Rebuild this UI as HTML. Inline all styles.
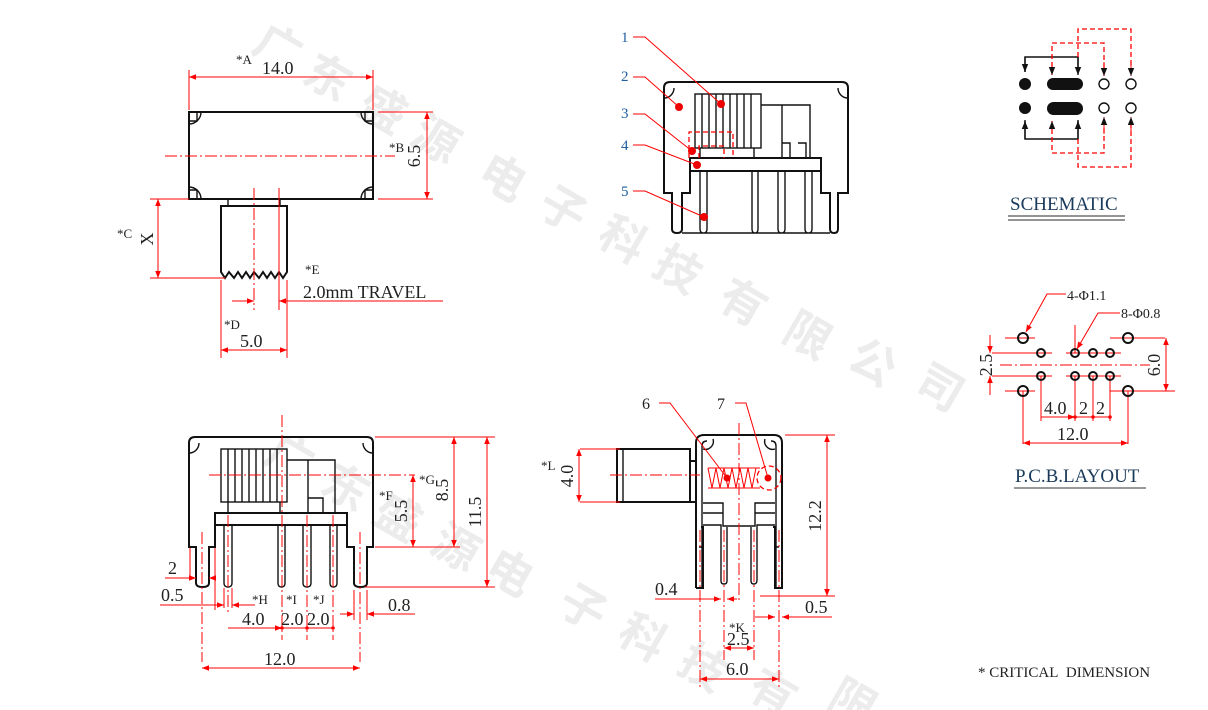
<!DOCTYPE html>
<html><head><meta charset="utf-8"><style>
html,body{margin:0;padding:0;background:#fff;width:1208px;height:710px;overflow:hidden}
svg{display:block}
text{font-family:"Liberation Serif",serif;fill:#222}
.k{stroke:#111;stroke-width:2;fill:none}
.k1{stroke:#111;stroke-width:1.4;fill:none}
.r{stroke:#f00;stroke-width:1;fill:none}
.cd{stroke:#f00;stroke-width:1;fill:none;stroke-dasharray:12 3 2 3}
.rd{stroke:#f00;stroke-width:1.3;fill:none;stroke-dasharray:5 3}
.wm text{font-family:"Noto Sans CJK SC",sans-serif;font-weight:bold;font-size:46px;fill:#ececec}
</style></head><body>
<svg width="1208" height="710" viewBox="0 0 1208 710" xmlns="http://www.w3.org/2000/svg">
<defs>
<marker id="a" viewBox="0 0 10 10" refX="10" refY="5" markerWidth="9" markerHeight="7" orient="auto-start-reverse" markerUnits="userSpaceOnUse"><path d="M0,1 L10,5 L0,9z" fill="#f00"/></marker>
<marker id="b" viewBox="0 0 10 10" refX="10" refY="5" markerWidth="8" markerHeight="8" orient="auto" markerUnits="userSpaceOnUse"><path d="M0,1 L10,5 L0,9z" fill="#111"/></marker>
<clipPath id="cp"><rect x="0" y="0" width="1208" height="710"/></clipPath>
</defs>
<!-- watermark -->
<g class="wm" clip-path="url(#cp)">
<text transform="translate(250,50) rotate(30)">广</text>
<text transform="translate(300,80) rotate(30)">东</text>
<text transform="translate(355,112) rotate(30)">盛</text>
<text transform="translate(408,142) rotate(30)">源</text>
<text transform="translate(475,180) rotate(30)">电</text>
<text transform="translate(535,212) rotate(30)">子</text>
<text transform="translate(595,242) rotate(30)">科</text>
<text transform="translate(650,272) rotate(30)">技</text>
<text transform="translate(715,305) rotate(30)">有</text>
<text transform="translate(780,338) rotate(30)">限</text>
<text transform="translate(845,365) rotate(30)">公</text>
<text transform="translate(912,390) rotate(30)">司</text>
<text transform="translate(262,460) rotate(30)">广</text>
<text transform="translate(318,490) rotate(30)">东</text>
<text transform="translate(370,520) rotate(30)">盛</text>
<text transform="translate(428,550) rotate(30)">源</text>
<text transform="translate(482,575) rotate(30)">电</text>
<text transform="translate(555,610) rotate(30)">子</text>
<text transform="translate(615,640) rotate(30)">科</text>
<text transform="translate(675,670) rotate(30)">技</text>
<text transform="translate(745,695) rotate(30)">有</text>
<text transform="translate(825,705) rotate(30)">限</text>
</g>

<!-- ===== TOP LEFT VIEW ===== -->
<rect class="k" x="189" y="112" width="184" height="87"/>
<path class="k1" d="M189,124 A12,12 0 0 0 201,112 M189,121h8v-9 M373,124 A12,12 0 0 1 361,112 M373,121h-8v-9 M189,187 A12,12 0 0 1 201,199 M189,190h8v9 M373,187 A12,12 0 0 0 361,199 M373,190h-8v9"/>
<path class="k1" d="M228,199v7 M280,199v7"/>
<path class="k" d="M221,206H287V272L283,278L279,272L275,278L271,272L267,278L263,272L259,278L254,272L250,278L246,272L242,278L238,272L234,278L229,272L225,278L221,272Z"/>
<line class="r" x1="189" y1="110" x2="189" y2="70"/><line class="r" x1="373" y1="110" x2="373" y2="70"/>
<line class="r" x1="189" y1="77" x2="373" y2="77" marker-start="url(#a)" marker-end="url(#a)"/>
<text x="236" y="64" font-size="13">*A</text><text x="262" y="74" font-size="18">14.0</text>
<line class="cd" x1="165" y1="156" x2="395" y2="156"/>
<line class="r" x1="378" y1="112" x2="433" y2="112"/><line class="r" x1="378" y1="199" x2="433" y2="199"/>
<line class="r" x1="427" y1="112" x2="427" y2="199" marker-start="url(#a)" marker-end="url(#a)"/>
<text x="389" y="152" font-size="13">*B</text>
<text transform="translate(420,156) rotate(-90)" font-size="18" text-anchor="middle">6.5</text>
<line class="r" x1="150" y1="199" x2="189" y2="199"/><line class="r" x1="150" y1="278" x2="225" y2="278"/>
<line class="r" x1="158" y1="199" x2="158" y2="278" marker-start="url(#a)" marker-end="url(#a)"/>
<text x="117" y="238" font-size="13">*C</text>
<text transform="translate(153,239) rotate(-90)" font-size="18" text-anchor="middle">X</text>
<line class="cd" x1="254" y1="188" x2="254" y2="310"/>
<line class="r" x1="279" y1="188" x2="279" y2="310"/>
<line class="r" x1="221" y1="280" x2="221" y2="358"/><line class="r" x1="287" y1="280" x2="287" y2="358"/>
<line class="r" x1="232" y1="301" x2="254" y2="301" marker-end="url(#a)"/>
<line class="r" x1="443" y1="301" x2="279" y2="301" marker-end="url(#a)"/>
<text x="305" y="274" font-size="13">*E</text>
<text x="303" y="298" font-size="18">2.0mm TRAVEL</text>
<line class="r" x1="221" y1="350" x2="287" y2="350" marker-start="url(#a)" marker-end="url(#a)"/>
<text x="224" y="329" font-size="13">*D</text><text x="240" y="347" font-size="18">5.0</text>

<!-- ===== TOP MID VIEW ===== -->
<path class="k" d="M664,193 V88 q0,-6 6,-6 H842 q6,0 6,6 V193 h-10 v36 q0,4 -4,4 q-4,0 -4,-4 v-36 h-9 V171 H690 v22 h-8 v36 q0,4 -5,4 q-5,0 -5,-4 v-36z"/>
<path class="k1" d="M664,98 A10,10 0 0 0 674,88 M848,98 A10,10 0 0 1 838,88"/>
<rect class="k" x="690" y="158" width="131" height="13"/>
<rect class="k1" x="695" y="94" width="66" height="54"/>
<path class="k1" d="M702,94v54 M709,94v54 M716,94v54 M723,94v54 M730,94v54 M737,94v54 M744,94v54 M751,94v54"/>
<path class="k1" d="M761,105h49v53 M782,105v53 M782,143h8v15 M798,143h8v15 M700,148v10 M754,148v10"/>
<path class="k1" d="M700,171v58q0,4 3.5,4q3.5,0 3.5,-4v-58 M752,171v58q0,4 3,4q3,0 3,-4v-58 M778,171v58q0,4 3.5,4q3.5,0 3.5,-4v-58 M805,171v58q0,4 3.5,4q3.5,0 3.5,-4v-58 M682,233h148"/>
<path class="rd" d="M689,158v-26h44v26 M699,158v-12h25v12"/>
<g fill="#e00">
<circle cx="721" cy="104" r="4"/><circle cx="679" cy="107" r="4"/><circle cx="692" cy="151" r="4"/><circle cx="697" cy="165" r="4"/><circle cx="704" cy="217" r="4"/>
</g>
<path class="r" d="M633,37h12l76,67 M633,77h12l34,30 M633,114h12l47,37 M633,145h12l52,20 M633,191h12l59,26"/>
<g font-size="15"><text x="621" y="42" style="fill:#1f5fa0">1</text><text x="621" y="81" style="fill:#1f5fa0">2</text><text x="621" y="118" style="fill:#1f5fa0">3</text><text x="621" y="150" style="fill:#1f5fa0">4</text><text x="621" y="196" style="fill:#1f5fa0">5</text></g>

<!-- ===== SCHEMATIC ===== -->
<path class="k1" d="M1025,72V57h53v15"/>
<line class="k1" x1="1025" y1="57" x2="1025" y2="72" marker-end="url(#b)"/>
<line class="k1" x1="1078" y1="57" x2="1078" y2="75" marker-end="url(#b)"/>
<path class="k1" d="M1025,120v19h53v-19"/>
<line class="k1" x1="1025" y1="139" x2="1025" y2="121" marker-end="url(#b)"/>
<line class="k1" x1="1078" y1="139" x2="1078" y2="121" marker-end="url(#b)"/>
<path class="rd" d="M1052,75V43h52v33 M1078,57V29h53v47 M1052,121v32h52v-33 M1078,139v28h53v-47"/>
<line class="r" x1="1052" y1="62" x2="1052" y2="75" marker-end="url(#b)"/>
<line class="r" x1="1104" y1="62" x2="1104" y2="76" marker-end="url(#b)"/>
<line class="r" x1="1131" y1="62" x2="1131" y2="76" marker-end="url(#b)"/>
<line class="r" x1="1052" y1="134" x2="1052" y2="121" marker-end="url(#b)"/>
<line class="r" x1="1104" y1="134" x2="1104" y2="117" marker-end="url(#b)"/>
<line class="r" x1="1131" y1="134" x2="1131" y2="117" marker-end="url(#b)"/>
<circle cx="1025" cy="84" r="6" fill="#111"/><circle cx="1025" cy="108" r="6" fill="#111"/>
<rect x="1047" y="78" width="36" height="12" rx="6" fill="#111"/><rect x="1047" y="102" width="36" height="13" rx="6.5" fill="#111"/>
<circle class="k1" cx="1104" cy="84" r="5"/><circle class="k1" cx="1131" cy="84" r="5"/><circle class="k1" cx="1104" cy="108" r="5"/><circle class="k1" cx="1131" cy="108" r="5"/>
<text x="1010" y="210" font-size="19" style="fill:#1a3a5a">SCHEMATIC</text>
<path d="M1008,216h117M1008,220h117" stroke="#555" stroke-width="1.2"/>

<!-- ===== PCB ===== -->
<line class="cd" x1="1000" y1="365" x2="1150" y2="365"/>
<path class="r" d="M1005,338h30 M1005,391h30 M1110,338h55 M1110,391h65 M992,353h60 M992,376h60 M1066,353h55 M1066,376h55 M1023,391v53 M1128,391v53 M1041,376v45 M1075,376v45 M1093,376v45 M1110,376v45 M1075,325v28"/>
<g class="k" stroke-width="1.8">
<circle cx="1023" cy="338" r="5"/><circle cx="1128" cy="338" r="5"/><circle cx="1023" cy="391" r="5"/><circle cx="1128" cy="391" r="5"/>
<circle cx="1041" cy="353" r="4"/><circle cx="1075" cy="353" r="4"/><circle cx="1093" cy="353" r="4"/><circle cx="1110" cy="353" r="4"/>
<circle cx="1041" cy="376" r="4"/><circle cx="1075" cy="376" r="4"/><circle cx="1093" cy="376" r="4"/><circle cx="1110" cy="376" r="4"/>
</g>
<path class="r" d="M1066,294h-19l-21,38" marker-end="url(#a)"/>
<path class="r" d="M1120,313h-22l-21,36" marker-end="url(#a)"/>
<text x="1067" y="300" font-size="14">4-Φ1.1</text><text x="1121" y="318" font-size="14">8-Φ0.8</text>
<line class="r" x1="990" y1="335" x2="990" y2="353" marker-end="url(#a)"/>
<line class="r" x1="990" y1="395" x2="990" y2="376" marker-end="url(#a)"/>
<text transform="translate(992,365) rotate(-90)" font-size="18" text-anchor="middle">2.5</text>
<line class="r" x1="1166" y1="338" x2="1166" y2="391" marker-start="url(#a)" marker-end="url(#a)"/>
<text transform="translate(1160,365) rotate(-90)" font-size="18" text-anchor="middle">6.0</text>
<line class="r" x1="1041" y1="417" x2="1075" y2="417" marker-end="url(#a)"/>
<line class="r" x1="1075" y1="417" x2="1110" y2="417"/>
<circle cx="1075" cy="417" r="1.8" fill="#f00"/><circle cx="1093" cy="417" r="1.8" fill="#f00"/><circle cx="1110" cy="417" r="1.8" fill="#f00"/>
<text x="1044" y="414" font-size="18">4.0</text><text x="1079" y="414" font-size="18">2</text><text x="1096" y="414" font-size="18">2</text>
<line class="r" x1="1023" y1="443" x2="1128" y2="443" marker-start="url(#a)" marker-end="url(#a)"/>
<text x="1057" y="440" font-size="18">12.0</text>
<text x="1015" y="482" font-size="19" style="fill:#1a3a5a">P.C.B.LAYOUT</text>
<line x1="1014" y1="488" x2="1146" y2="488" stroke="#333" stroke-width="1"/>

<!-- ===== BOTTOM LEFT VIEW ===== -->
<path class="k" d="M196,547 H189 V443 q0,-6 6,-6 H367 q6,0 6,6 V547 h-6 v36 q0,4 -6.5,4 q-6.5,0 -6.5,-4 v-36 h-7 V525 H215 v22 h-6 v36 q0,4 -6.5,4 q-6.5,0 -6.5,-4z"/>
<path class="k1" d="M189,453 A10,10 0 0 0 199,443 M373,453 A10,10 0 0 1 363,443"/>
<rect class="k" x="215" y="513" width="132" height="12"/>
<rect class="k1" x="221" y="449" width="66" height="53"/>
<path class="k1" d="M228,449v53 M235,449v53 M242,449v53 M249,449v53 M256,449v53 M263,449v53 M270,449v53 M277,449v53"/>
<path class="k1" d="M287,460h48v53 M308,460v53 M308,498h15v15 M228,502v11 M280,502v11"/>
<path class="k1" d="M224,525v58q0,4 4,4q4,0 4,-4v-58 M278,525v58q0,4 3.5,4q3.5,0 3.5,-4v-58 M303,525v58q0,4 4,4q4,0 4,-4v-58 M330,525v58q0,4 3.5,4q3.5,0 3.5,-4v-58"/>
<line class="cd" x1="282" y1="415" x2="282" y2="640"/>
<line class="cd" x1="209" y1="475" x2="415" y2="475"/>
<path class="cd" d="M228,515v100 M307,515v125 M333,515v125 M202,532v130 M360,532v130"/>
<line class="r" x1="375" y1="547" x2="460" y2="547"/><line class="r" x1="375" y1="437" x2="495" y2="437"/><line class="r" x1="365" y1="587" x2="495" y2="587"/>
<line class="r" x1="413" y1="475" x2="413" y2="547" marker-start="url(#a)" marker-end="url(#a)"/>
<line class="r" x1="454" y1="437" x2="454" y2="547" marker-start="url(#a)" marker-end="url(#a)"/>
<line class="r" x1="487" y1="437" x2="487" y2="587" marker-start="url(#a)" marker-end="url(#a)"/>
<text x="379" y="500" font-size="13">*F</text><text transform="translate(407,511) rotate(-90)" font-size="18" text-anchor="middle">5.5</text>
<text x="419" y="484" font-size="13">*G</text><text transform="translate(448,490) rotate(-90)" font-size="18" text-anchor="middle">8.5</text>
<text transform="translate(481,512) rotate(-90)" font-size="18" text-anchor="middle">11.5</text>
<line class="r" x1="190" y1="578" x2="196" y2="578" marker-end="url(#a)"/><line class="r" x1="165" y1="578" x2="190" y2="578"/>
<line class="r" x1="215" y1="578" x2="209" y2="578" marker-end="url(#a)"/>
<path class="r" d="M190,548v30 M215,548v62"/>
<text x="168" y="574" font-size="18">2</text>
<line class="r" x1="160" y1="605" x2="224" y2="605" marker-end="url(#a)"/>
<line class="r" x1="255" y1="605" x2="232" y2="605" marker-end="url(#a)"/>
<path class="r" d="M232,588v20 M224,588v20"/>
<text x="161" y="601" font-size="18">0.5</text>
<text x="252" y="604" font-size="13">*H</text><text x="286" y="604" font-size="13">*I</text><text x="313" y="604" font-size="13">*J</text>
<line class="r" x1="228" y1="628" x2="282" y2="628" marker-end="url(#a)"/>
<line class="r" x1="282" y1="628" x2="333" y2="628"/>
<circle cx="282" cy="628" r="1.8" fill="#f00"/><circle cx="307" cy="628" r="1.8" fill="#f00"/><circle cx="333" cy="628" r="1.8" fill="#f00"/>
<text x="242" y="625" font-size="18">4.0</text><text x="281" y="625" font-size="18">2.0</text><text x="307" y="625" font-size="18">2.0</text>
<line class="r" x1="340" y1="614" x2="354" y2="614" marker-end="url(#a)"/>
<line class="r" x1="415" y1="614" x2="367" y2="614" marker-end="url(#a)"/>
<path class="r" d="M354,590v30 M367,590v30"/>
<text x="388" y="611" font-size="18">0.8</text>
<line class="r" x1="202" y1="668" x2="360" y2="668" marker-start="url(#a)" marker-end="url(#a)"/>
<text x="264" y="665" font-size="18">12.0</text>

<!-- ===== BOTTOM MID VIEW ===== -->
<rect class="k" x="617" y="449" width="73" height="53"/>
<line class="k1" x1="623" y1="449" x2="623" y2="502"/>
<path class="k" d="M690,461h6v-2 M690,502h6 M696,588V443q0,-8 8,-8h70q8,0 8,8V588h-7V527h-2 M696,588h7V527h-2"/>
<path class="k1" d="M702,588V446q0,-5 5,-5 M776,588V446q0,-5 -5,-5 M703,449A8,8 0 0 0 713,439 M775,449A8,8 0 0 1 765,439 M703,513h20v-10h-20 M775,513h-20v-10h20 M703,525h18 V578 M775,525h-18v53 M723,513v13h32v-13 M721,527v54q0,3 3,3q3,0 3,-3v-54 M751,527v54q0,3 3,3q3,0 3,-4v-53"/>
<path class="k1" d="M699,547h4 M775,547h4"/>
<path class="r" stroke-width="1.2" d="M708,468 l4,20 4,-20 4,20 4,-20 4,20 4,-20 4,20 4,-20 4,20 4,-20 4,20 4,-20"/>
<path class="r" d="M708,488h52 M708,468h52"/>
<circle class="rd" cx="769" cy="478" r="12" stroke-dasharray="6 2"/>
<circle cx="727" cy="478" r="3.5" fill="#e00"/><circle cx="768" cy="478" r="3.5" fill="#e00"/>
<path class="r" d="M659,403h11l57,75 M735,403h11l22,75"/>
<text x="642" y="409" font-size="16">6</text><text x="717" y="409" font-size="16">7</text>
<line class="cd" x1="739" y1="423" x2="739" y2="600"/>
<line class="cd" x1="610" y1="475" x2="700" y2="475"/>
<path class="cd" d="M700,530v160 M724,530v130 M754,530v130 M779,530v160"/>
<line class="r" x1="580" y1="449" x2="620" y2="449"/><line class="r" x1="580" y1="502" x2="620" y2="502"/>
<line class="r" x1="579" y1="449" x2="579" y2="502" marker-start="url(#a)" marker-end="url(#a)"/>
<text x="541" y="470" font-size="13">*L</text><text transform="translate(573,476) rotate(-90)" font-size="18" text-anchor="middle">4.0</text>
<line class="r" x1="785" y1="435" x2="835" y2="435"/><line class="r" x1="760" y1="596" x2="835" y2="596"/>
<line class="r" x1="827" y1="435" x2="827" y2="596" marker-start="url(#a)" marker-end="url(#a)"/>
<text transform="translate(821,516) rotate(-90)" font-size="18" text-anchor="middle">12.2</text>
<line class="r" x1="655" y1="599" x2="721" y2="599" marker-end="url(#a)"/>
<line class="r" x1="737" y1="599" x2="727" y2="599" marker-end="url(#a)"/>
<text x="655" y="595" font-size="18">0.4</text>
<line class="r" x1="755" y1="617" x2="775" y2="617" marker-end="url(#a)"/>
<line class="r" x1="832" y1="617" x2="782" y2="617" marker-end="url(#a)"/>
<text x="805" y="613" font-size="18">0.5</text>
<line class="r" x1="724" y1="648" x2="754" y2="648" marker-start="url(#a)" marker-end="url(#a)"/>
<text x="729" y="632" font-size="13">*K</text><text x="727" y="645" font-size="18">2.5</text>
<line class="r" x1="700" y1="679" x2="779" y2="679" marker-start="url(#a)" marker-end="url(#a)"/>
<text x="726" y="675" font-size="18">6.0</text>

<text x="978" y="677" font-size="15">* CRITICAL&#160; DIMENSION</text>
</svg>
</body></html>
